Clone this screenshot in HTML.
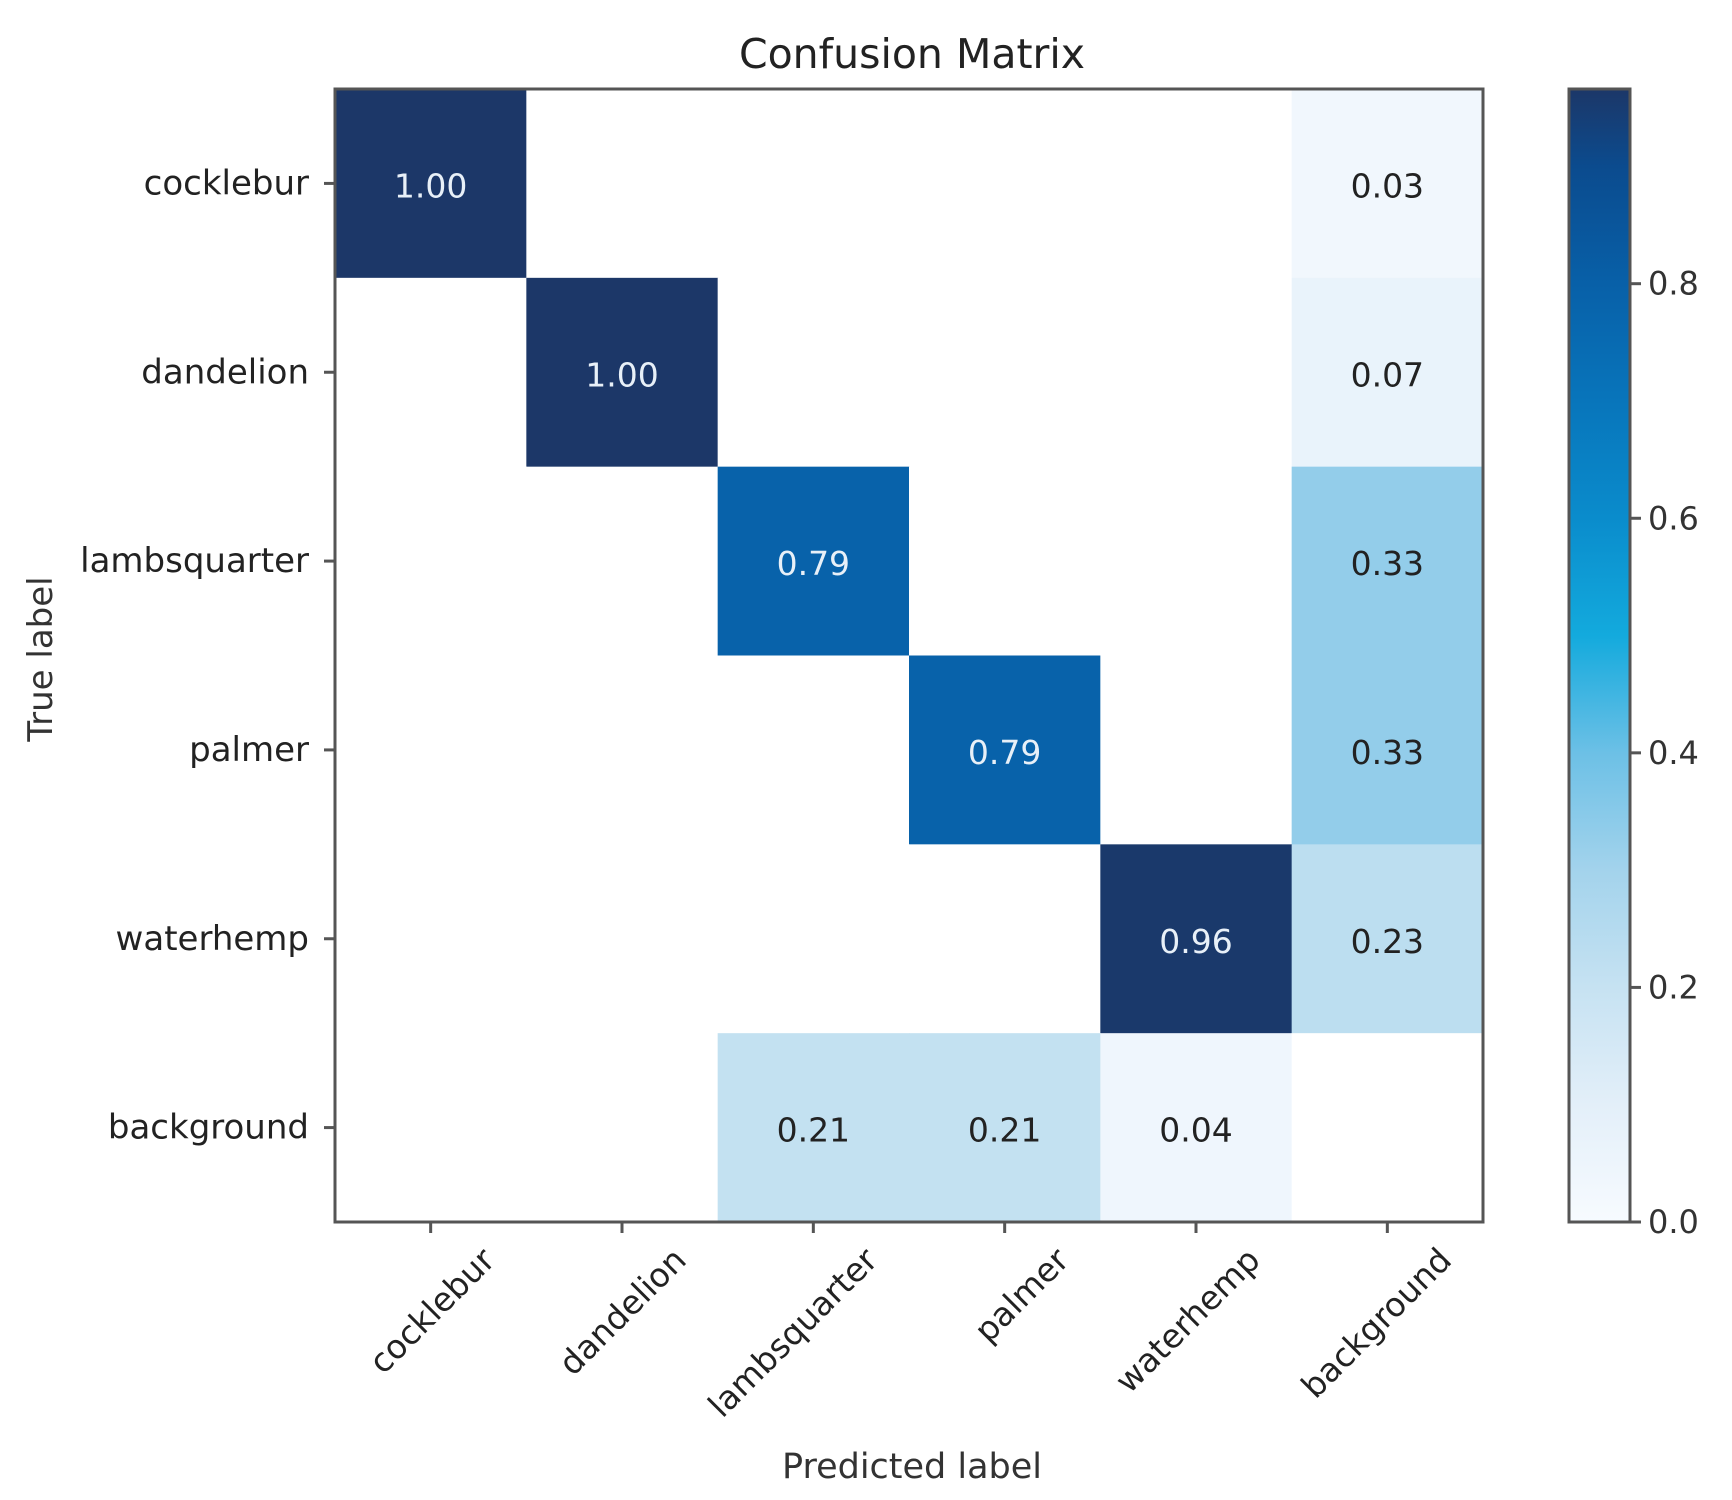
<!DOCTYPE html>
<html><head><meta charset="utf-8"><style>
html,body{margin:0;padding:0;background:#fff;}
svg{display:block;font-family:"DejaVu Sans","Liberation Sans",sans-serif;}
</style></head><body>
<svg id="chart" width="1732" height="1500" viewBox="0 0 1732 1500" xmlns="http://www.w3.org/2000/svg">
<rect width="1732" height="1500" fill="#fff"/>
<text x="912" y="68" font-size="41" text-anchor="middle" fill="#222">Confusion Matrix</text>
<g id="cells"></g>
<g id="axes"></g>
<g id="cbar"></g>
<text x="912" y="1478" font-size="35" text-anchor="middle" fill="#333">Predicted label</text>
<text x="0" y="0" font-size="34" text-anchor="middle" fill="#333" transform="translate(52,659) rotate(-90)">True label</text>
</svg>
<script>
const trueLabels = ["cocklebur","dandelion","lambsquarter","palmer","waterhemp","background"];
const predLabels = ["cocklebur","dandelion","lambsquarter","palmer","waterhemp","background"];
const row0 = [1.00,0,0,0,0,0.03];
const row1 = [0,1.00,0,0,0,0.07];
const row2 = [0,0,0.79,0,0,0.33];
const row3 = [0,0,0,0.79,0,0.33];
const row4 = [0,0,0,0,0.96,0.23];
const row5 = [0,0,0.21,0.21,0.04,0];
const matrix = [row0,row1,row2,row3,row4,row5];
const cbarTicks = [0.0,0.2,0.4,0.6,0.8];
const vmax = 0.966;

const NS="http://www.w3.org/2000/svg";
const L=335,R=1483,T=89,B=1222;
const n=predLabels.length;
const cw=(R-L)/n, ch=(B-T)/trueLabels.length;
const xPos=i=>L+cw*(i+0.5);
const yPos=j=>T+ch*(j+0.5);
const stops=[[0,"#f7fbff"],[0.1,"#e3eff9"],[0.2,"#c6e2f2"],[0.3,"#a3d3ec"],[0.4,"#6cc0e6"],[0.5,"#13aadd"],[0.6,"#0a8ccc"],[0.7,"#0875bb"],[0.8,"#0860a8"],[0.9,"#0b4b8e"],[0.966,"#1c3768"]];
function hex(h){return [1,3,5].map(k=>parseInt(h.substr(k,2),16));}
function color(v){
  if(v<=0) return "#ffffff";
  if(v>=stops[stops.length-1][0]) return stops[stops.length-1][1];
  for(let k=0;k<stops.length-1;k++){
    const [a,ca]=stops[k],[b,cb]=stops[k+1];
    if(v>=a&&v<=b){const t=(v-a)/(b-a);const A=hex(ca),Bc=hex(cb);
      return "rgb("+A.map((x,m)=>Math.round(x+(Bc[m]-x)*t)).join(",")+")";}
  }
}
function el(tag,attrs,parent){const e=document.createElementNS(NS,tag);for(const k in attrs)e.setAttribute(k,attrs[k]);parent.appendChild(e);return e;}
const cells=document.getElementById("cells");
matrix.forEach((row,j)=>row.forEach((v,i)=>{
  const r=el("rect",{x:xPos(i)-cw/2,y:yPos(j)-ch/2,width:cw+0.5,height:ch+0.5,fill:color(v)},cells);
  
  
  if(v>0){
    const t=el("text",{x:xPos(i),y:yPos(j)+14,"font-size":33,"text-anchor":"middle",fill:v>0.48?"#e8f0f8":"#222"},cells);
    t.textContent=v.toFixed(2);
    
    
  }
}));
const ax=document.getElementById("axes");
el("rect",{x:L,y:T,width:R-L,height:B-T,fill:"none",stroke:"#555","stroke-width":3},ax);
predLabels.forEach((lab,i)=>{
  el("line",{x1:xPos(i),x2:xPos(i),y1:B,y2:B+11,stroke:"#555","stroke-width":3},ax);
  const t=el("text",{x:0,y:0,"font-size":33,"text-anchor":"end",fill:"#222",transform:`translate(${xPos(i)+66},${B+40}) rotate(-45)`},ax);
  t.textContent=lab;
  
  
});
trueLabels.forEach((lab,j)=>{
  el("line",{x1:L-11,x2:L,y1:yPos(j),y2:yPos(j),stroke:"#555","stroke-width":3},ax);
  const t=el("text",{x:L-26,y:yPos(j)+11,"font-size":34,"text-anchor":"end",fill:"#222"},ax);
  t.textContent=lab;
  
  
});
const cb=document.getElementById("cbar");
const CL=1569,CR=1630;
const cy=v=>B-(v/vmax)*(B-T);
const defs=el("defs",{},cb);
const g=el("linearGradient",{id:"cg",x1:0,y1:1,x2:0,y2:0},defs);
stops.forEach(([v,c])=>el("stop",{offset:v/vmax,"stop-color":c},g));
const cr=el("rect",{x:CL,y:T,width:CR-CL,height:B-T,fill:"url(#cg)",stroke:"#555","stroke-width":3},cb);


cbarTicks.forEach(v=>{
  el("line",{x1:CR,x2:CR+11,y1:cy(v),y2:cy(v),stroke:"#555","stroke-width":3},cb);
  const t=el("text",{x:CR+18,y:cy(v)+11,"font-size":32,fill:"#333"},cb);
  t.textContent=v.toFixed(1);
  
  
});
</script>
</body></html>
